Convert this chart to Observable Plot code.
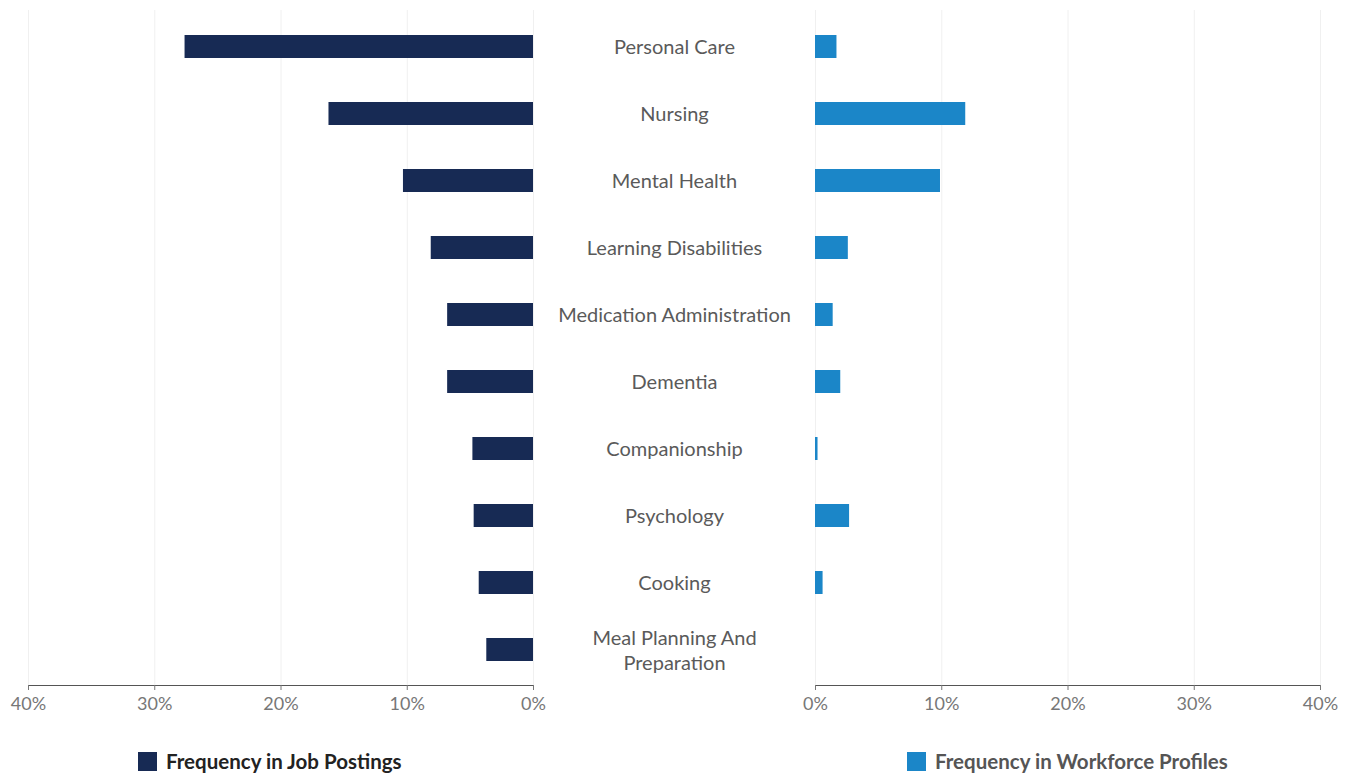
<!DOCTYPE html>
<html>
<head>
<meta charset="utf-8">
<script src="https://cdn.jsdelivr.net/npm/d3@7"></script>
<script src="https://cdn.jsdelivr.net/npm/@observablehq/plot@0.6"></script>
<style>
  html, body { margin: 0; padding: 0; background: #fff; }
  #wrap { position: relative; width: 1357px; height: 778px; font-family: Lato, "Open Sans", sans-serif; overflow: hidden; }
  #left, #right { position: absolute; top: 0; }
  #left { left: 0; }
  #right { left: 535px; }
  .legend { position: absolute; top: 752px; display: flex; align-items: center; font-size: 20.5px; font-weight: 700; line-height: 19px; }
  .legend .sw { width: 19px; height: 19px; margin-right: 9px; }
</style>
</head>
<body>
<div id="wrap">
  <div id="left"></div>
  <div id="right"></div>
  <div class="legend" style="left:138px;color:#222;"><div class="sw" style="background:#172a54"></div><span>Frequency in Job Postings</span></div>
  <div class="legend" style="left:907px;color:#555;"><div class="sw" style="background:#1b86c8"></div><span>Frequency in Workforce Profiles</span></div>
</div>
<script>
const categories = ["Personal Care", "Nursing", "Mental Health", "Learning Disabilities", "Medication Administration", "Dementia", "Companionship", "Psychology", "Cooking", "Meal Planning And Preparation"];
const categoryLabels = ["Personal Care", "Nursing", "Mental Health", "Learning Disabilities", "Medication Administration", "Dementia", "Companionship", "Psychology", "Cooking", "Meal Planning And\nPreparation"];
const jobPostings = [27.6, 16.2, 10.3, 8.1, 6.8, 6.8, 4.8, 4.7, 4.3, 3.7];
const workforceProfiles = [1.7, 11.9, 9.9, 2.6, 1.4, 2.0, 0.2, 2.7, 0.6, 0];
const xTicks = [0, 10, 20, 30, 40];

const rows = categories.map((c, i) => ({category: c, label: categoryLabels[i], job: jobPostings[i], work: workforceProfiles[i]}));

const common = {
  height: 730,
  marginTop: 10,
  marginBottom: 45,
  style: {fontFamily: "Lato, 'Open Sans', sans-serif", fontSize: "18px", background: "transparent"},
  y: {domain: categories, paddingInner: 0.66, paddingOuter: 0.33, axis: null}
};

const left = Plot.plot({
  ...common,
  width: 560,
  marginLeft: 28,
  marginRight: 27,
  x: {domain: [0, 40], reverse: true, axis: null, label: null},
  marks: [
    Plot.gridX(xTicks, {stroke: "#f0f0f0", strokeOpacity: 1}),
    Plot.barX(rows, {y: "category", x: "job", fill: "#172a54"}),
    Plot.frame({anchor: "bottom", stroke: "#555"}),
    Plot.axisX(xTicks, {tickFormat: d => d + "%", tickSize: 5, tickPadding: 7, color: "#777", fontSize: 18, label: null})
  ]
});
document.getElementById("left").appendChild(left);

const right = Plot.plot({
  ...common,
  width: 822,
  marginLeft: 280,
  marginRight: 37,
  x: {domain: [0, 40], axis: null, label: null},
  marks: [
    Plot.gridX(xTicks, {stroke: "#f0f0f0", strokeOpacity: 1}),
    Plot.barX(rows, {y: "category", x: "work", fill: "#1b86c8"}),
    Plot.text(rows, {y: "category", text: "label", frameAnchor: "left", dx: -141, dy: -1, textAnchor: "middle", fill: "#5a5a5a", fontSize: 20, lineHeight: 1.25}),
    Plot.frame({anchor: "bottom", stroke: "#555"}),
    Plot.axisX(xTicks, {tickFormat: d => d + "%", tickSize: 5, tickPadding: 7, color: "#777", fontSize: 18, label: null})
  ]
});
document.getElementById("right").appendChild(right);
</script>
</body>
</html>
